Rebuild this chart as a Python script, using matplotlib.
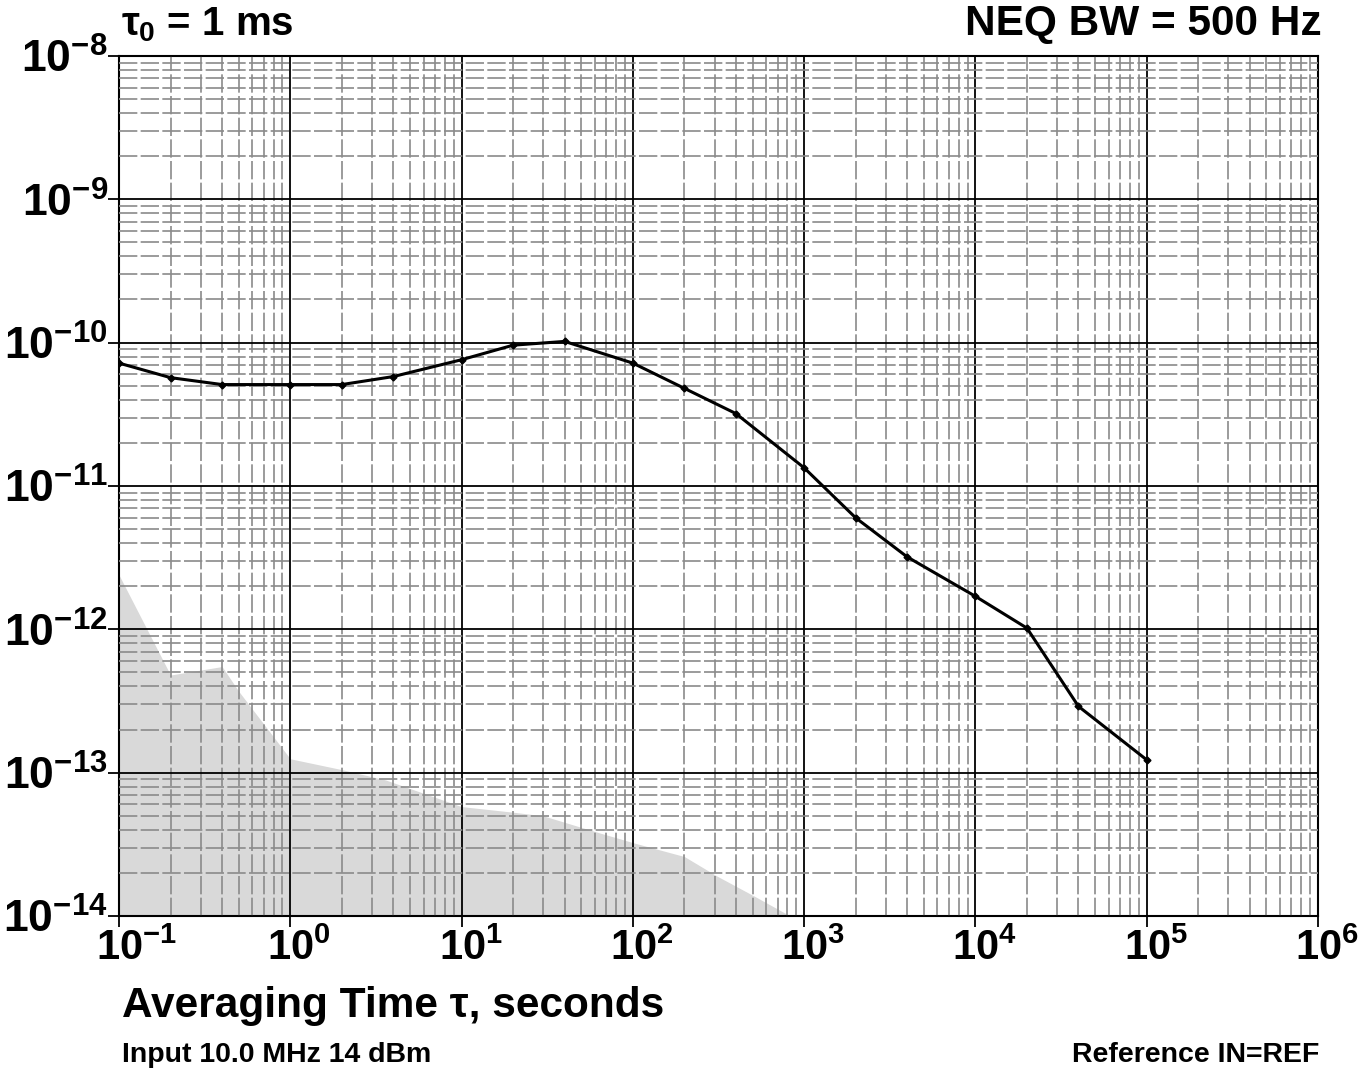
import numpy as np
import matplotlib
matplotlib.use('Agg')
import matplotlib.pyplot as plt
import matplotlib.transforms as mtransforms
from matplotlib.ticker import LogLocator, NullFormatter

plt.rcParams['font.family'] = ['Liberation Sans', 'DejaVu Sans']
plt.rcParams['font.weight'] = 'bold'
plt.rcParams['mathtext.fontset'] = 'custom'
plt.rcParams['mathtext.rm'] = 'Liberation Sans:bold'
plt.rcParams['mathtext.bf'] = 'Liberation Sans:bold'
plt.rcParams['mathtext.it'] = 'Liberation Sans:bold'

# Allan deviation curve
tau = [0.1, 0.2, 0.4, 1, 2, 4, 10, 20, 40, 100, 200, 400,
       1e3, 2e3, 4e3, 1e4, 2e4, 4e4, 1e5]
adev = [7.2e-11, 5.7e-11, 5.1e-11, 5.1e-11, 5.1e-11, 5.8e-11, 7.6e-11,
        9.6e-11, 1.02e-10, 7.2e-11, 4.8e-11, 3.2e-11,
        1.34e-11, 6.0e-12, 3.2e-12, 1.7e-12, 1.02e-12, 2.9e-13, 1.23e-13]

# gray noise-floor region
floor_tau = [0.1, 0.2, 0.4, 0.5, 1, 2, 3.6, 10, 20, 30, 64, 105, 200, 310, 510, 830]
floor_adev = [2.4e-12, 4.8e-13, 5.5e-13, 3.7e-13, 1.25e-13, 1.05e-13, 8.9e-14,
              5.8e-14, 5.3e-14, 5.0e-14, 3.8e-14, 3.2e-14, 2.6e-14, 1.9e-14,
              1.38e-14, 1.0e-14]

x_exps = [-1, 0, 1, 2, 3, 4, 5, 6]
y_exps = [-14, -13, -12, -11, -10, -9, -8]

fig = plt.figure(figsize=(13.72, 10.72), dpi=100)
ax = fig.add_axes([0.0867, 0.1455, 0.8739, 0.8023])

ax.set_xscale('log')
ax.set_yscale('log')
ax.set_xlim(1e-1, 1e6)
ax.set_ylim(1e-14, 1e-8)

ax.fill_between(floor_tau, floor_adev, 1e-14, color='#d9d9d9', lw=0, zorder=1)

ax.set_xticks([10.0 ** e for e in x_exps])
ax.set_xticklabels([r'$\mathbf{10^{%d}}$' % e for e in x_exps])
ax.set_yticks([10.0 ** e for e in y_exps])
ax.set_yticklabels([r'$\mathbf{10^{%d}}$' % e for e in y_exps])
ax.xaxis.set_minor_locator(LogLocator(base=10, subs=np.arange(2, 10), numticks=20))
ax.yaxis.set_minor_locator(LogLocator(base=10, subs=np.arange(2, 10), numticks=20))
ax.xaxis.set_minor_formatter(NullFormatter())
ax.yaxis.set_minor_formatter(NullFormatter())

ax.grid(which='minor', color='#8a8a8a', lw=1.2, linestyle=(0, (11, 2)), zorder=2)
ax.grid(which='major', color='black', lw=1.3, zorder=3)
ax.set_axisbelow(False)

ax.tick_params(axis='x', which='major', direction='out', length=8, width=1.3,
               labelsize=30, pad=1)
ax.tick_params(axis='y', which='major', direction='out', length=8, width=1.3,
               labelsize=32, pad=0)
ax.tick_params(which='minor', length=0)
for s in ax.spines.values():
    s.set_linewidth(1.5)

# x labels: centre the "10" on the tick, exponent hangs to the right
shift = mtransforms.ScaledTranslation(-16.5 / 72, 0, fig.dpi_scale_trans)
for lbl in ax.get_xticklabels():
    lbl.set_horizontalalignment('left')
    lbl.set_transform(lbl.get_transform() + shift)

ax.plot(tau, adev, color='black', lw=2.2, marker='D', ms=3.5, zorder=5)

fig.text(0.088, 0.967, r'$\tau_0$ = 1 ms', fontsize=29, fontweight='bold',
         ha='left', va='baseline')
fig.text(0.9635, 0.967, 'NEQ BW = 500 Hz', fontsize=30.5, fontweight='bold',
         ha='right', va='baseline')
fig.text(0.089, 0.051, 'Averaging Time \u03c4, seconds', fontsize=30.5,
         fontweight='bold', ha='left', va='baseline')
fig.text(0.089, 0.0095, 'Input 10.0 MHz 14 dBm', fontsize=20.5,
         fontweight='bold', ha='left', va='baseline')
fig.text(0.962, 0.0095, 'Reference IN=REF', fontsize=20.5,
         fontweight='bold', ha='right', va='baseline')

fig.savefig('out.png', dpi=100)
